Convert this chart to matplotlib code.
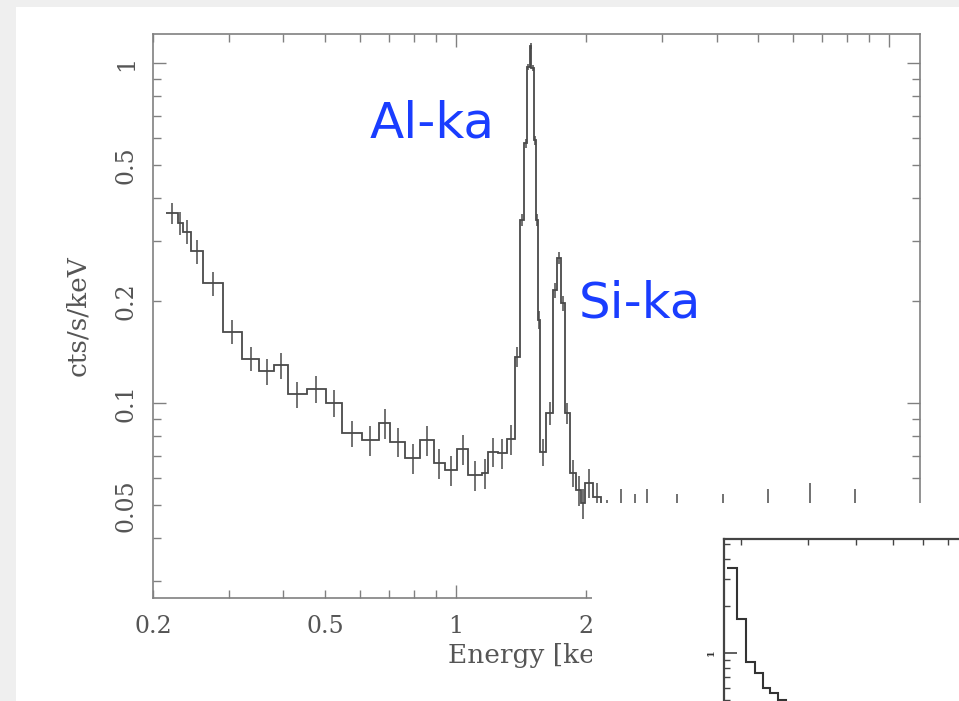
import matplotlib
matplotlib.use("Agg")
import matplotlib.pyplot as plt
import numpy as np
from matplotlib.patches import Rectangle
from matplotlib.ticker import LogLocator, FuncFormatter, FixedLocator, NullFormatter

# --- spectrum: bin edges [keV], count rate [cts/s/keV], relative errors ---
edges = [0.2139, 0.2284, 0.2345, 0.2450, 0.2606, 0.2898, 0.3209, 0.3519, 0.3809,
         0.4089, 0.4545, 0.5006, 0.5468,
         0.6079, 0.6642, 0.7063, 0.7646, 0.8278, 0.8886, 0.9450, 1.0053, 1.0696,
         1.1475, 1.1890, 1.2536, 1.3098, 1.3687,
         1.4055, 1.4386, 1.4617, 1.4820, 1.4954, 1.5136, 1.5297, 1.5460, 1.5625,
         1.6189, 1.6773, 1.7160, 1.7499, 1.7836, 1.8315, 1.8974, 1.9487, 1.9903,
         2.0761, 2.1654,
         2.308, 2.512, 2.677, 2.852, 3.679, 4.667, 5.922, 7.317, 9.535, 11.66]
rate = [0.361, 0.338, 0.319, 0.279, 0.225, 0.162, 0.135, 0.124, 0.129, 0.106,
        0.110, 0.100, 0.0814,
        0.0778, 0.0871, 0.0769, 0.0688, 0.0778, 0.0665, 0.0635, 0.0731, 0.0614,
        0.0621, 0.0719, 0.0711, 0.0782,
        0.1368, 0.3453, 0.5804, 0.9752, 1.122, 0.9667, 0.5935, 0.3453, 0.1754,
        0.0718, 0.0935, 0.2150, 0.2670, 0.1968, 0.0935, 0.0622, 0.0555, 0.0508,
        0.0582, 0.0529,
        0.040, 0.040, 0.040, 0.040, 0.040, 0.040, 0.040, 0.040, 0.040, 0.040]
rel_err = [0.07, 0.08, 0.08, 0.08, 0.08, 0.08, 0.08, 0.09, 0.09, 0.09, 0.09, 0.09, 0.09,
           0.10, 0.10, 0.10, 0.10, 0.10, 0.10, 0.10, 0.10, 0.10, 0.10, 0.10, 0.10, 0.10,
           0.07, 0.04, 0.03, 0.02, 0.02, 0.02, 0.03, 0.04, 0.06, 0.09, 0.08, 0.05,
           0.04, 0.05, 0.07, 0.09, 0.10, 0.10, 0.10, 0.10,
           0.30, 0.40, 0.35, 0.40, 0.35, 0.35, 0.40, 0.45, 0.40, 0.10]

x_labels = [0.2, 0.5, 1, 2, 5, 10]
y_labels = [0.05, 0.1, 0.2, 0.5, 1]

# --- inset (second spectrum, mostly off the slide) ---
inset_edges = [0.1833, 0.1947, 0.2057, 0.2173, 0.2280, 0.2376, 0.2497, 0.262, 0.275, 0.29]
inset_rate = [3.5, 1.65, 0.876, 0.744, 0.597, 0.554, 0.50, 0.42, 0.36]

W, H = 959, 701
fig = plt.figure(figsize=(W / 100, H / 100), dpi=100)
fig.patch.set_facecolor("white")

def px_box(x0, y0, x1, y1):
    # pixel box (top-left origin) -> figure fraction rect
    return [x0 / W, 1 - y1 / H, (x1 - x0) / W, (y1 - y0) / H]

ax = fig.add_axes(px_box(153, 34, 920, 598))
edges_a = np.array(edges)
rate_a = np.array(rate)
centers = np.sqrt(edges_a[:-1] * edges_a[1:])
line_c = "#4a4a4a"
ax.stairs(rate_a, edges_a, color=line_c, lw=1.3, baseline=None)
ax.errorbar(centers, rate_a, yerr=rate_a * np.array(rel_err), fmt="none",
            ecolor=line_c, elinewidth=1.1)

ax.set_xscale("log")
ax.set_yscale("log")
ax.set_xlim(0.2, 11.8)
ax.set_ylim(0.0267, 1.217)

def fmt_for(labels):
    def f(v, pos):
        return f"{v:g}" if any(np.isclose(v, t) for t in labels) else ""
    return FuncFormatter(f)

for axis, labels in ((ax.xaxis, x_labels), (ax.yaxis, y_labels)):
    axis.set_major_locator(LogLocator(base=10, subs=(1.0,)))
    axis.set_minor_locator(LogLocator(base=10, subs=np.arange(2, 10)))
    axis.set_major_formatter(fmt_for(labels))
    axis.set_minor_formatter(fmt_for(labels))

spine_c = "#808080"
text_c = "#555555"
for s in ax.spines.values():
    s.set_color(spine_c)
    s.set_linewidth(1.2)
ax.tick_params(which="both", direction="in", top=True, right=True,
               color=spine_c, width=1.0, labelcolor=text_c, labelsize=17)
ax.tick_params(which="major", length=9.5)
ax.tick_params(which="minor", length=5.5)
ax.tick_params(axis="x", which="both", pad=12)
ax.tick_params(axis="y", which="both", pad=11)
for lbl in ax.get_xticklabels(which="both") + ax.get_yticklabels(which="both"):
    lbl.set_family("DejaVu Serif")
plt.setp(ax.get_yticklabels(which="both"), rotation=90, va="center")

ax.set_xlabel("Energy [keV]", family="DejaVu Serif", fontsize=19, color=text_c, labelpad=4)
ax.set_ylabel("cts/s/keV", family="DejaVu Serif", fontsize=19, color=text_c, labelpad=18)

# white box pasted over the lower right of the slide
fig.add_artist(Rectangle((592 / W, 0), 1 - 592 / W, 1 - 503 / H,
                         transform=fig.transFigure, fc="white", ec="none", zorder=5))

# inset chart, cut by the slide edge
ax2 = fig.add_axes(px_box(724, 539, 1104, 800))
ax2.set_zorder(6)
ax2.stairs(inset_rate, inset_edges, color="#333333", lw=1.5, baseline=None)
ax2.set_xscale("log")
ax2.set_yscale("log")
ax2.set_xlim(0.18, 1.8)
ax2.set_ylim(0.114, 5.38)
ax2.yaxis.set_major_locator(FixedLocator([1]))
ax2.yaxis.set_minor_locator(LogLocator(base=10, subs=np.arange(2, 10)))
ax2.yaxis.set_major_formatter(FuncFormatter(lambda v, p: "1"))
ax2.yaxis.set_minor_formatter(NullFormatter())
ax2.xaxis.set_major_locator(LogLocator(base=10, subs=(1.0,)))
ax2.xaxis.set_minor_locator(LogLocator(base=10, subs=np.arange(2, 10)))
ax2.xaxis.set_major_formatter(NullFormatter())
ax2.xaxis.set_minor_formatter(NullFormatter())
for s in ax2.spines.values():
    s.set_color("#444444")
    s.set_linewidth(1.6)
ax2.tick_params(which="both", direction="in", top=True, right=True,
                color="#444444", labelsize=7, labelcolor="#333333")
ax2.tick_params(which="major", length=9, width=1.2)
ax2.tick_params(which="minor", length=4, width=1.0)
ax2.tick_params(axis="y", pad=6)
plt.setp(ax2.get_yticklabels(), rotation=90, va="center", family="DejaVu Serif",
         weight="bold")

# blue annotations
blue = "#1a3dff"
fig.text(432 / W, 1 - 137 / H, "Al-ka", color=blue, fontsize=36, ha="center",
         va="baseline", zorder=7)
fig.text(640 / W, 1 - 317 / H, "Si-ka", color=blue, fontsize=36, ha="center",
         va="baseline", zorder=7)

# light grey slide frame on the left and top
frame_c = "#efefef"
fig.add_artist(Rectangle((0, 0), 16 / W, 1, transform=fig.transFigure,
                         fc=frame_c, ec="none", zorder=10))
fig.add_artist(Rectangle((0, 1 - 7 / H), 1, 7 / H, transform=fig.transFigure,
                         fc=frame_c, ec="none", zorder=10))

fig.savefig("out.png", dpi=100)
